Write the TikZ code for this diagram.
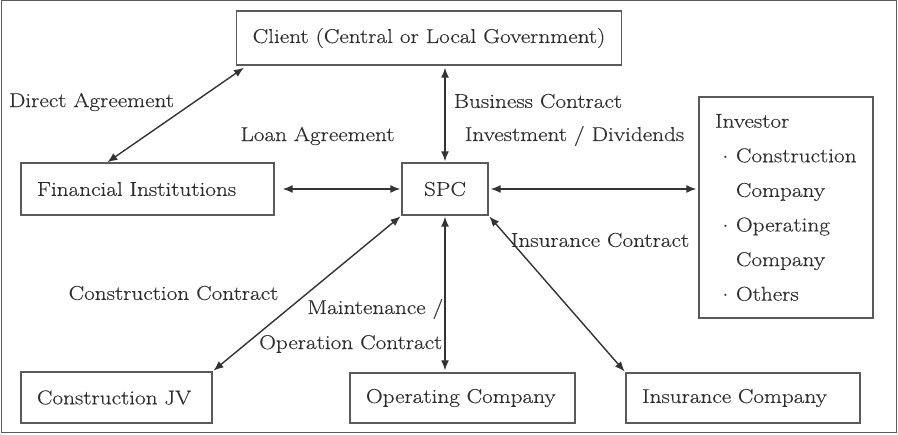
\documentclass[tikz,border=0pt]{standalone}
\usepackage{fontspec}
\setmainfont{Latin Modern Roman}[FakeStretch=1.16, FakeBold=0.35]
\usetikzlibrary{arrows.meta}
\definecolor{linegray}{HTML}{333333}
\definecolor{boxgray}{HTML}{5A5A5A}
\definecolor{textgray}{HTML}{2E2E2E}
\tikzset{
  party/.style={draw=boxgray, line width=1.4pt, text=textgray,
    font=\fontsize{20}{34.6}\selectfont, align=left,
    inner xsep=16pt, inner ysep=0pt},
  lbl/.style={text=textgray, font=\fontsize{20}{24}\selectfont, inner sep=0pt}
}
\begin{document}
\begin{tikzpicture}[x=1pt, y=-1pt, <->, >={Latex[length=10pt,width=8pt]}, line width=1.4pt]
                \useasboundingbox (0,0) rectangle (898,435);
                \draw[-, boxgray, line width=1pt] (1,1) rectangle (896,433);
                % parties
                \node[party, align=center, minimum width=382pt, minimum height=54pt] (Clientc) at (429,38) {Client (Central or Local Government)};
                \node[party, text width=221pt, minimum height=52pt] (FIc) at (147.5,189) {Financial Institutions};
                \node[party, align=center, inner xsep=0pt, minimum width=86pt, minimum height=52pt] (SPCc) at (445,189) {SPC};
                \node[party, text width=142pt, minimum height=221pt] (Invc) at (786,207.5) {Investor\\
                  \makebox[21pt]{$\cdot$}Construction\\ \hspace*{21pt}Company\\
                  \makebox[21pt]{$\cdot$}Operating\\ \hspace*{21pt}Company\\
                  \makebox[21pt]{$\cdot$}Others};
                \node[party, text width=159pt, minimum height=51pt] (JVc) at (116.5,397.5) {Construction JV};
                \node[party, text width=193pt, minimum height=50pt] (Opc) at (462.5,398) {Operating Company};
                \node[party, text width=202pt, minimum height=50pt] (Insc) at (743,398) {Insurance Company};
                % contracts
                \draw[linegray] ([xshift=87pt]FIc.north west) -- ([xshift=8pt,yshift=-2pt]Clientc.south west);
                \draw[linegray, shorten <=8pt, shorten >=1pt] (FIc.east |- SPCc.west) -- (SPCc.west);
                \draw[linegray, shorten <=2pt, shorten >=2pt] (SPCc.east) -- (SPCc.east -| Invc.west);
                \draw[linegray, shorten <=2pt, shorten >=1pt] (SPCc.north |- Clientc.south) -- (SPCc.north);
                \draw[linegray, shorten <=1pt, shorten >=1pt] (SPCc.south west) -- (JVc.north east);
                \draw[linegray, shorten <=1pt, shorten >=2pt] (SPCc.south) -- (SPCc.south |- Opc.north);
                \draw[linegray, shorten <=1pt, shorten >=1pt] (SPCc.south east) -- (Insc.north west);
                % labels
                \node[lbl] (DAl) at (91.5,102) {Direct Agreement};
                \node[lbl] (LAl) at (317.5,136) {Loan Agreement};
                \node[lbl] (BCl) at (538,101) {Business Contract};
                \node[lbl] (IDl) at (574.5,136) {Investment / Dividends};
                \node[lbl] (ICl) at (600,240) {Insurance Contract};
                \node[lbl] (CCl) at (173.5,293) {Construction Contract};
                \node[lbl, anchor=east] (MOl) at (444,309) {Maintenance /};
                \node[lbl, anchor=east] (OCl) at (443,344) {Operation Contract};
            \end{tikzpicture}
\end{document}
